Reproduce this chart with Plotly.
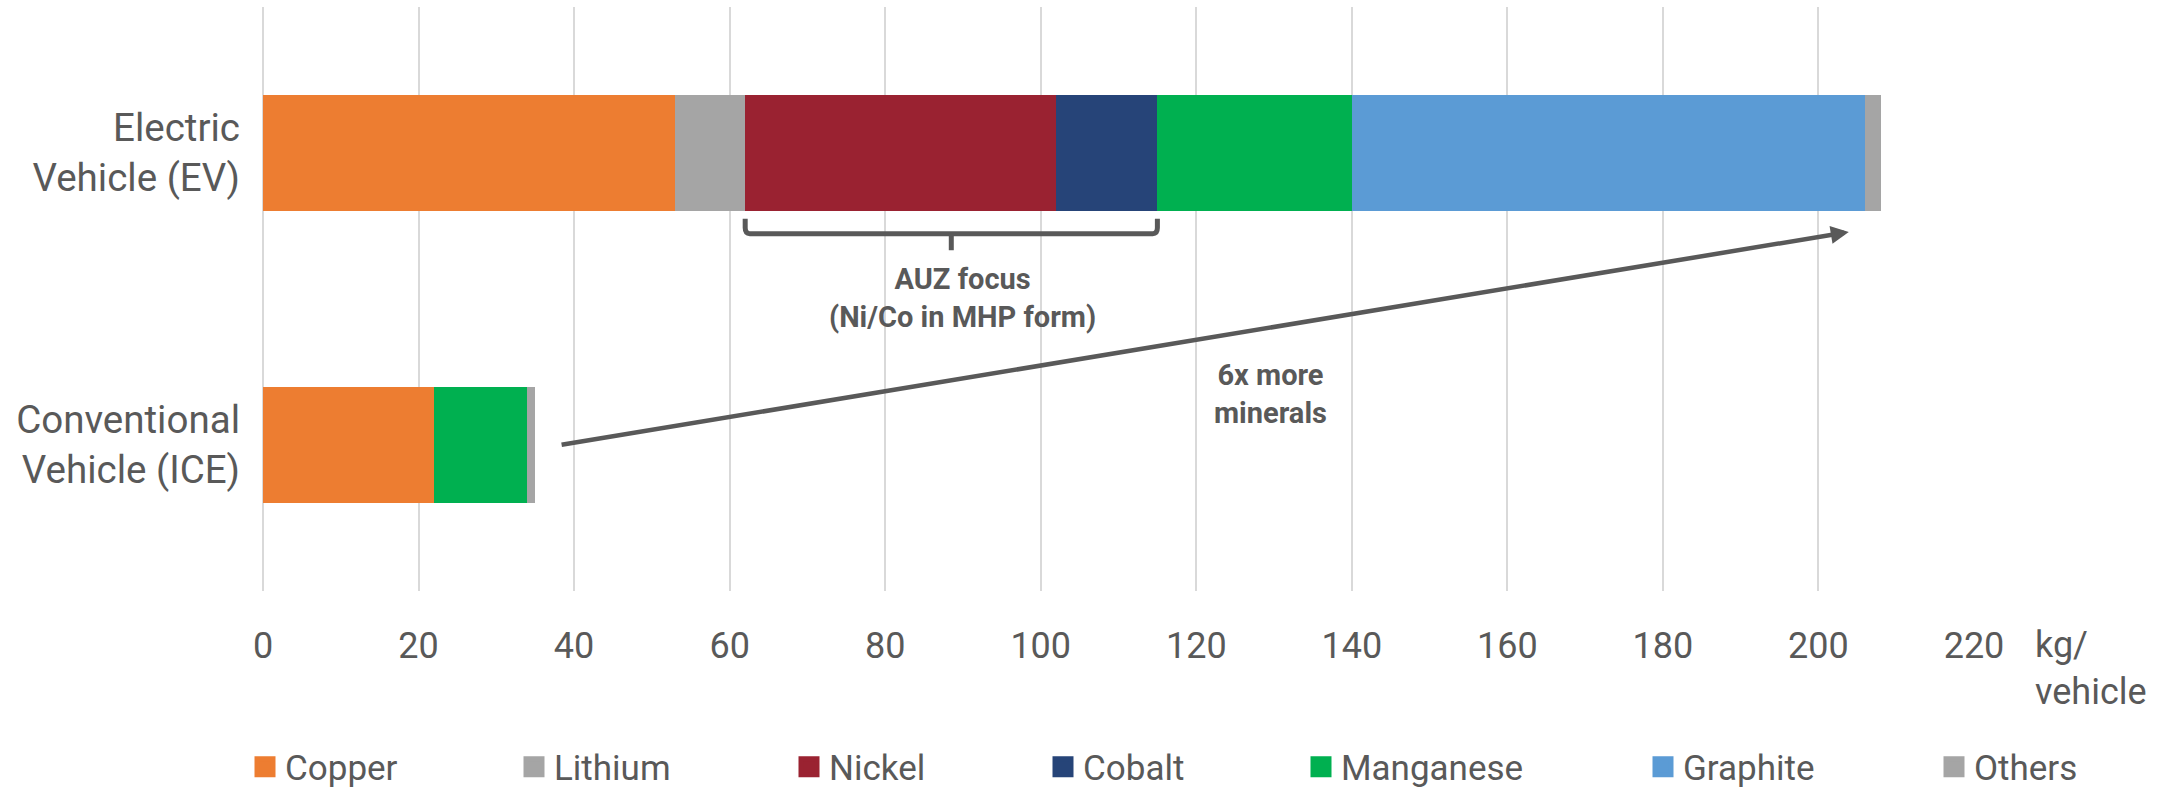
import plotly.graph_objects as go

# ---- data (kg per vehicle) ----
categories = ["Conventional<br>Vehicle (ICE)", "Electric<br>Vehicle (EV)"]
minerals = ["Copper", "Lithium", "Nickel", "Cobalt", "Manganese", "Graphite", "Others"]
copper = [22, 53]
lithium = [0, 9]
nickel = [0, 40]
cobalt = [0, 13]
manganese = [12, 25]
graphite = [0, 66]
others = [1, 2]
x_ticks = [0, 20, 40, 60, 80, 100, 120, 140, 160, 180, 200, 220]

series = [copper, lithium, nickel, cobalt, manganese, graphite, others]
colors = ["#ED7D31", "#A5A5A5", "#9A2231", "#264478", "#00B050", "#5B9BD5", "#A5A5A5"]

TXT = "#595959"
W, H = 2180, 788
L, R, T, B = 263, 206, 7, 197
pw, ph = W - L - R, H - T - B

fig = go.Figure()
legend_px = [254, 523, 798, 1052, 1310, 1652, 1943]  # marker left edges (px)
for i, (name, vals, col) in enumerate(zip(minerals, series, colors)):
    lg = "legend" if i == 0 else f"legend{i+1}"
    fig.add_trace(go.Bar(
        y=categories, x=vals, name=name, orientation="h",
        marker=dict(color=col, line=dict(width=0)),
        showlegend=False, hoverinfo="x+name", legendgroup=name,
    ))
    # legend entry (larger square swatch)
    fig.add_trace(go.Scatter(
        x=[None], y=[None], mode="markers", name=name, legend=lg, legendgroup=name,
        marker=dict(symbol="square", size=16, color=col, line=dict(color=col, width=5)),
        showlegend=True, hoverinfo="skip",
    ))

layout_legends = {}
for i, px in enumerate(legend_px):
    key = "legend" if i == 0 else f"legend{i+1}"
    layout_legends[key] = dict(
        x=(px - L - 9) / pw, xanchor="left",
        y=(T + ph - 767) / ph, yanchor="middle",
        orientation="h", font=dict(size=35, color=TXT, family="Roboto"),
        bgcolor="rgba(0,0,0,0)", itemwidth=30,
    )

fig.update_layout(
    width=W, height=H,
    margin=dict(l=L, r=R, t=T, b=B, pad=0, autoexpand=False),
    paper_bgcolor="white", plot_bgcolor="white",
    font=dict(family="Roboto", color=TXT),
    barmode="stack", bargap=0.6,
    xaxis=dict(
        range=[0, 220], tickvals=x_ticks, showgrid=True, gridcolor="#D9D9D9", gridwidth=2,
        zeroline=True, zerolinecolor="#D9D9D9", zerolinewidth=2, showline=False, ticks="",
        tickfont=dict(size=36, color=TXT, family="Roboto"), ticklabelstandoff=30,
        fixedrange=True,
    ),
    yaxis=dict(
        type="category", categoryorder="array", categoryarray=categories,
        range=[-0.5, 1.5], showgrid=False, zeroline=False, showline=False, ticks="",
        tickfont=dict(size=38.5, color=TXT, family="Roboto"), ticklabelstandoff=22,
        fixedrange=True,
    ),
    **layout_legends,
)

# bracket under Nickel + Cobalt (rounded corners)
x0 = sum(v[1] for v in series[:2])
x1 = sum(v[1] for v in series[:4])
xm = (x0 + x1) / 2
r_x, r_y = 0.6, 0.02
fig.add_shape(type="path", xref="x", yref="y",
              path=(f"M{x0},0.775 L{x0},{0.7236 + r_y} Q{x0},0.7236 {x0 + r_x},0.7236 "
                    f"L{x1 - r_x},0.7236 Q{x1},0.7236 {x1},{0.7236 + r_y} L{x1},0.775"),
              line=dict(color=TXT, width=5))
fig.add_shape(type="line", xref="x", yref="y", x0=xm, x1=xm, y0=0.7236, y1=0.667,
              line=dict(color=TXT, width=5))

fig.add_annotation(x=89.9, y=0.505, xref="x", yref="y", showarrow=False,
                   text="<b>AUZ focus</b><br><b>(Ni/Co in MHP form)</b>",
                   font=dict(size=29, color=TXT, family="Roboto"), align="center")

# arrow ICE -> EV
fig.add_annotation(x=203.9, y=0.7296, ax=38.2, ay=0, xref="x", yref="y",
                   axref="x", ayref="y", text="", showarrow=True,
                   arrowhead=2, arrowsize=0.8, arrowwidth=4.5, arrowcolor=TXT, standoff=0)

fig.add_annotation(x=129.6, y=0.175, xref="x", yref="y", showarrow=False,
                   text="<b>6x more</b><br><b>minerals</b>",
                   font=dict(size=29, color=TXT, family="Roboto"), align="center")

# axis unit label
fig.add_annotation(x=(2033 - L) / pw, y=(T + ph - 622) / ph, xref="paper", yref="paper",
                   xanchor="left", yanchor="top", showarrow=False, align="left",
                   text="kg/<br>vehicle", font=dict(size=36, color=TXT, family="Roboto"))

fig.write_html("out.html")
